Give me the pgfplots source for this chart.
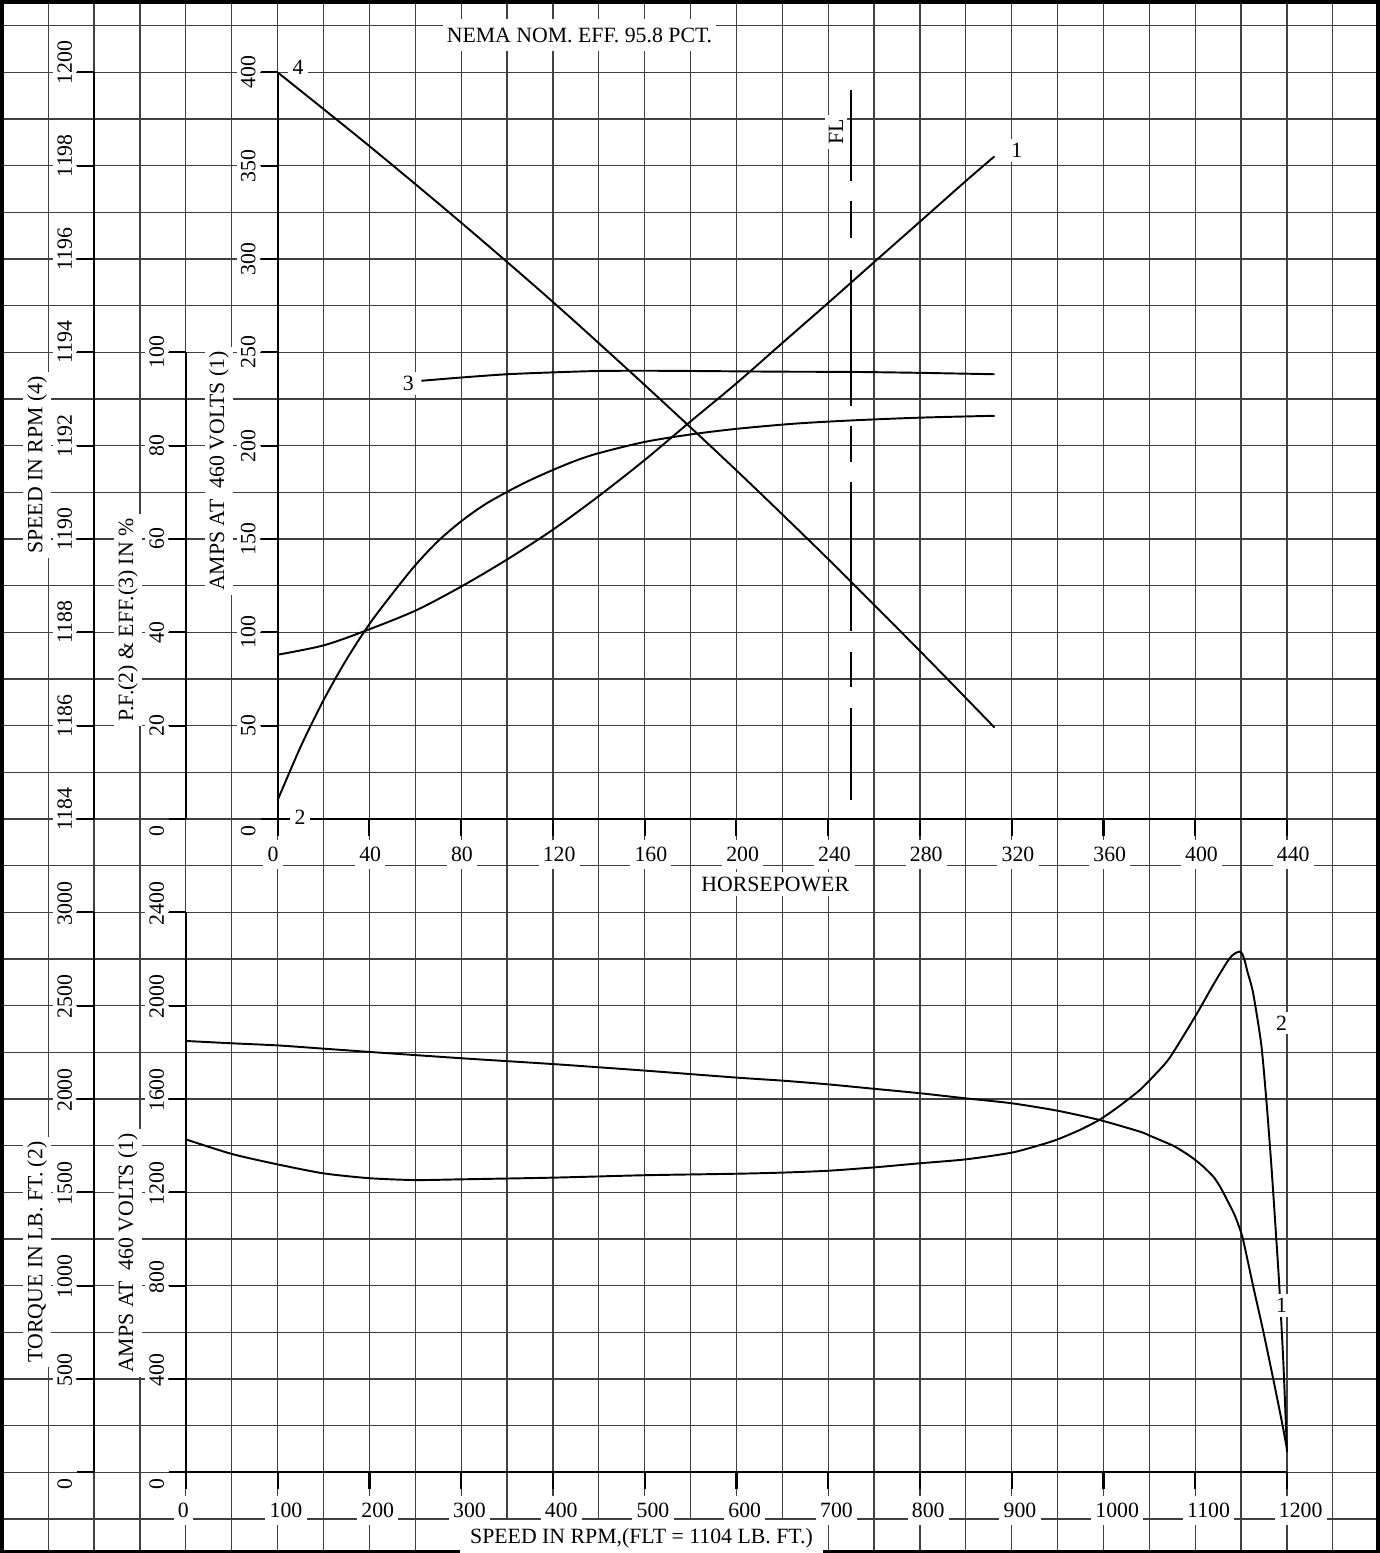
\documentclass[border=0pt]{standalone}
\usepackage{pgfplots}
\pgfplotsset{compat=1.18}
\usepackage{fontspec}
\setmainfont{Liberation Serif}

\newcommand\chartfont{\fontsize{6.2}{7}\selectfont}

% sheet scale: 1 px of the original = 0.01 cm
\pgfplotsset{
  sheet/.style={
    scale only axis, anchor=south west, clip=false,
    axis line style={-, line width=0.6pt},
    tick style={black, line width=0.6pt},
    tick align=outside, major tick length=0.17cm,
    scaled ticks=false,
    /pgf/number format/1000 sep={},
    /pgf/number format/assume math mode=true,
    tick label style={font=\chartfont, fill=white, inner sep=1.2pt},
    label style={font=\chartfont, fill=white, inner sep=1.2pt},
  },
  vscale/.style={hide x axis, axis y line*=left, ytick pos=left},
  curve/.style={black, line width=0.55pt, no markers},
}

\begin{document}
\begin{tikzpicture}

% graph paper
\begin{axis}[
  at={(0,0)}, anchor=south west, scale only axis,
  width=13.79cm, height=15.53cm,
  xmin=0, xmax=1379, ymin=0, ymax=1553, y dir=reverse,
  xtick={48.2,94.08,...,1380}, ytick={25.7,72.367,...,1521},
  xticklabels={}, yticklabels={}, major tick length=0pt,
  grid=major, grid style={black!75, line width=0.35pt},
  axis line style={line width=2pt},
]
\end{axis}

% ---------- upper chart: performance vs horsepower ----------
% speed scale (4)
\begin{axis}[sheet, vscale,
  at={(0.941cm,7.34cm)}, width=11.929cm, height=7.4663cm,
  xmin=-80, xmax=440, ymin=1184, ymax=1200,
  ytick={1184,1186,...,1200},
  yticklabel style={rotate=90, anchor=south, xshift=0.1cm},
  ylabel={SPEED IN RPM (4)},
  ylabel style={at={(axis description cs:-0.0478,0.474)}, anchor=center},
]
\addplot[curve, smooth] coordinates {
  (0,1200) (40,1198.42) (80,1196.78) (120,1195.08) (160,1193.30)
  (200,1191.47) (240,1189.57) (280,1187.60) (312.5,1185.96)
};
\end{axis}

% power factor (2) and efficiency (3)
\begin{axis}[sheet, vscale,
  at={(1.86cm,7.34cm)}, width=11.01cm, height=4.6667cm,
  xmin=-40, xmax=440, ymin=0, ymax=100,
  ytick={20,40,...,100},
  extra y ticks={0}, extra y tick style={yticklabel style={xshift=-0.12cm}},
  yticklabel style={rotate=90, anchor=south},
  ylabel={P.F.(2) \& EFF.(3) IN \%},
  ylabel style={at={(axis description cs:-0.0527,0.4264)}, anchor=center},
]
\addplot[curve, smooth] coordinates {
  (0,4.1) (10,15.5) (20,25.5) (30,34.2) (40,41.8) (50,48.3) (60,54.4)
  (70,59.6) (80,63.8) (90,67.3) (100,70.1) (110,72.6) (120,74.8) (130,76.8)
  (140,78.4) (160,80.8) (180,82.4) (200,83.6) (225,84.7) (250,85.4)
  (280,86.0) (312.5,86.4)
};
\addplot[curve, smooth] coordinates {
  (62.6,93.9) (80,94.6) (100,95.3) (120,95.7) (140,96.0) (160,96.05)
  (180,96.0) (220,95.85) (250,95.8) (280,95.6) (312.5,95.3)
};
\end{axis}

% amps (1) against horsepower
\begin{axis}[sheet,
  at={(2.776cm,7.34cm)}, width=10.094cm, height=7.4663cm,
  xmin=0, xmax=440, ymin=0, ymax=400,
  axis x line*=bottom, axis y line*=left, xtick pos=left, ytick pos=left,
  xtick={0,40,...,440}, ytick={50,100,...,400},
  extra y ticks={0}, extra y tick style={yticklabel style={xshift=-0.12cm}},
  xticklabel style={anchor=north west, inner ysep=2pt, xshift=-0.15cm, yshift=-0.035cm},
  yticklabel style={rotate=90, anchor=south},
  xlabel={HORSEPOWER},
  xlabel style={at={(axis description cs:0.493,-0.087)}, anchor=center},
  ylabel={AMPS AT~ 460 VOLTS (1)},
  ylabel style={at={(axis description cs:-0.0581,0.466)}, anchor=center},
]
\addplot[curve, smooth] coordinates {
  (0,88) (20,93) (38,100.7) (60,111.6) (80,124.5) (100,139) (120,155)
  (140,173) (160,192.3) (180,213) (200,233.4) (220,255) (240,276.5)
  (260,298.3) (280,320) (300,341.8) (312.5,355)
};
% full load line
\addplot[black, line width=0.55pt, dash pattern=on 9.2mm off 2.1mm on 3.5mm off 2.1mm on 14.9mm off 2mm on 3.6mm off 2mm on 13.6mm off 3.2mm on 3.7mm off 2mm on 9.4mm off 5mm]
  coordinates {(250,10.3) (250,390.3)};
\node[font=\chartfont, fill=white, inner sep=1.2pt, rotate=90] at (axis cs:243.4,368) {FL};
\node[font=\chartfont, fill=white, inner sep=1.2pt] at (axis cs:8.9,402.9) {4};
\node[font=\chartfont, fill=white, inner sep=1.2pt] at (axis cs:322.2,358) {1};
\node[font=\chartfont, fill=white, inner sep=1.2pt] at (axis cs:9.8,1.1) {2};
\node[font=\chartfont, fill=white, inner sep=1.2pt] at (axis cs:57,233.4) {3};
\node[font=\chartfont, fill=white, inner xsep=1.2pt, inner ysep=2.5pt] at (axis cs:131.6,420) {NEMA NOM. EFF. 95.8 PCT.};
\end{axis}

% ---------- lower chart: speed-torque ----------
% torque (2)
\begin{axis}[sheet, vscale,
  at={(0.941cm,0.806cm)}, width=11.929cm, height=5.6cm,
  xmin=-100, xmax=1200, ymin=0, ymax=3000,
  ytick={500,1000,...,3000},
  extra y ticks={0}, extra y tick style={yticklabel style={xshift=-0.21cm}},
  yticklabel style={rotate=90, anchor=south, xshift=0.09cm},
  ylabel={TORQUE IN LB. FT. (2)},
  ylabel style={at={(axis description cs:-0.0478,0.3936)}, anchor=center},
]
\addplot[curve, smooth, tension=0.4] coordinates {
  (0,1784) (50,1706) (100,1650) (150,1602) (200,1576) (250,1566) (300,1570)
  (400,1579) (500,1592) (600,1600) (650,1606) (700,1616) (750,1634)
  (800,1656) (850,1677) (900,1713) (931,1754) (950,1784) (974,1834)
  (996,1890) (1018,1965) (1040,2050) (1055,2125) (1072,2220) (1100,2443)
  (1120,2615) (1134,2729) (1140,2768) (1145,2785) (1148,2790) (1151,2780)
  (1154,2740) (1157,2680) (1163,2570) (1172,2290) (1178,1964) (1183,1640)
  (1187,1350) (1191.6,1000) (1196,590) (1200,110)
};
\end{axis}

% amps (1) against speed
\begin{axis}[sheet,
  at={(1.86cm,0.806cm)}, width=11.01cm, height=5.6cm,
  xmin=0, xmax=1200, ymin=0, ymax=2400,
  axis x line*=bottom, axis y line*=left, xtick pos=left, ytick pos=left,
  xtick={0,100,...,1200}, ytick={400,800,...,2400},
  extra y ticks={0}, extra y tick style={yticklabel style={xshift=-0.21cm}},
  xticklabel style={anchor=north west, inner ysep=2pt, xshift=-0.13cm, yshift=-0.06cm},
  yticklabel style={rotate=90, anchor=south, xshift=0.09cm},
  xlabel={SPEED IN RPM,(FLT = 1104 LB. FT.)},
  xlabel style={at={(axis description cs:0.4137,-0.1171)}, anchor=center, inner xsep=3pt, inner ysep=2.2pt},
  ylabel={AMPS AT~ 460 VOLTS (1)},
  ylabel style={at={(axis description cs:-0.0527,0.3918)}, anchor=center},
]
\addplot[curve, smooth, tension=0.4] coordinates {
  (0,1849) (50,1839) (100,1830) (150,1816) (200,1802) (300,1775) (400,1750)
  (500,1722) (600,1692) (650,1679) (700,1663) (750,1644) (800,1625)
  (850,1603) (900,1582) (950,1550) (996,1510) (1040,1460) (1051,1442)
  (1076,1400) (1090,1367) (1100,1339) (1110,1306) (1120,1266) (1127,1225)
  (1134,1173) (1143,1102) (1151,1015) (1157,910) (1163,800) (1174,607)
  (1185,400) (1194,225) (1200,100)
};
\node[font=\chartfont, fill=white, inner sep=1.2pt] at (axis cs:1194.2,1926) {2};
\node[font=\chartfont, fill=white, inner sep=1.2pt] at (axis cs:1194.2,717) {1};
\end{axis}

\pgfresetboundingbox
\useasboundingbox (0,0) rectangle (13.79cm,15.53cm);
\end{tikzpicture}
\end{document}
